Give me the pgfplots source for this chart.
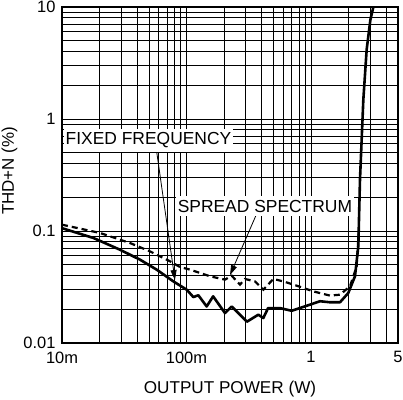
\documentclass[border=0pt]{standalone}
\usepackage{fontspec}
\setmainfont{Liberation Sans}
\usepackage{pgfplots}
\pgfplotsset{compat=1.18}
\usetikzlibrary{arrows.meta}

\begin{document}
\begin{tikzpicture}
\useasboundingbox (-62bp,-57bp) rectangle (341bp,343bp);
\begin{axis}[
    at={(0,0)}, anchor=south west,
    scale only axis,
    width=336bp, height=336bp,
    xmode=log, ymode=log,
    xmin=0.01, xmax=5, ymin=0.01, ymax=10,
    xtick={0.01,0.1,1,5}, xticklabels={10m,100m,1,5},
    ytick={0.01,0.1,1,10}, yticklabels={0.01,0.1,1,10},
    minor xtick={0.02,0.03,0.04,0.05,0.06,0.07,0.08,0.09,
                 0.2,0.3,0.4,0.5,0.6,0.7,0.8,0.9,2,3,4},
    minor ytick={0.02,0.03,0.04,0.05,0.06,0.07,0.08,0.09,
                 0.2,0.3,0.4,0.5,0.6,0.7,0.8,0.9,2,3,4,5,6,7,8,9},
    grid=both,
    major grid style={black, line width=0.8bp},
    minor grid style={black, line width=0.8bp},
    major tick length=0pt, minor tick length=0pt,
    axis line style={line width=1.2bp},
    ticklabel style={font=\fontsize{16.5}{18}\selectfont},
    xticklabel style={yshift=-5bp},
    yticklabel style={xshift=-3bp},
    xlabel={OUTPUT POWER (W)},
    ylabel={THD+N (\%)},
    xlabel style={at={(axis description cs:0.5,0)}, anchor=center,
                  yshift=-46bp, font=\fontsize{17.2}{19}\selectfont},
    ylabel style={at={(axis description cs:0,0.5)}, anchor=center, inner sep=0pt,
                  yshift=52.5bp, xshift=4bp, font=\fontsize{17}{19}\selectfont},
]
% fixed frequency
\addplot[black, line width=2.6bp, line join=round] coordinates {
    (0.01,0.106) (0.0179,0.0866) (0.0292,0.0681) (0.0423,0.0555)
    (0.0576,0.0452) (0.0784,0.0355) (0.1005,0.0299) (0.1135,0.0257)
    (0.1245,0.0267) (0.1452,0.0212) (0.1637,0.0261) (0.2038,0.0185)
    (0.2306,0.0212) (0.2524,0.0192) (0.3058,0.0155) (0.3776,0.0179)
    (0.414,0.0167) (0.4522,0.0205) (0.5636,0.0205) (0.6994,0.0194)
    (0.982,0.0220) (1.181,0.0236) (1.421,0.0231) (1.71,0.0231)
    (1.995,0.0280) (2.256,0.0394) (2.40,0.073) (2.475,0.287)
    (2.633,1.488) (2.80,4.16) (3.0,7.7) (3.17,10)
};
% spread spectrum
\addplot[black, line width=2.2bp, dash pattern=on 6bp off 4bp] coordinates {
    (0.01,0.1139) (0.0202,0.0960) (0.0352,0.0781) (0.0509,0.0658)
    (0.0737,0.0536) (0.0887,0.0477) (0.1067,0.0452) (0.1545,0.0394)
    (0.2038,0.0368) (0.2306,0.0399) (0.269,0.0332) (0.2951,0.0373)
    (0.355,0.0355) (0.4142,0.0299) (0.4983,0.0373) (0.5995,0.0355)
    (0.7672,0.0325) (1.044,0.0289) (1.421,0.0265) (1.71,0.0270)
    (2.057,0.0321) (2.327,0.0484) (2.42,0.1)
};
\draw[line width=0.8bp, -{Triangle[length=10bp,width=6bp]}]
    (axis cs:0.0569,0.562) -- (axis cs:0.0808,0.0365);
\draw[line width=0.8bp, -{Triangle[length=10bp,width=6bp]}]
    (axis cs:0.3686,0.1448) -- (axis cs:0.2237,0.0404);
\node[fill=white, inner xsep=2bp, inner ysep=4bp,
      font=\fontsize{17.5}{19}\selectfont]
    at (axis cs:0.0495,0.645) {FIXED FREQUENCY};
\node[fill=white, inner xsep=2bp, inner ysep=4bp,
      font=\fontsize{17.5}{19}\selectfont]
    at (axis cs:0.4267,0.1661) {SPREAD SPECTRUM};
\end{axis}
\end{tikzpicture}
\end{document}
